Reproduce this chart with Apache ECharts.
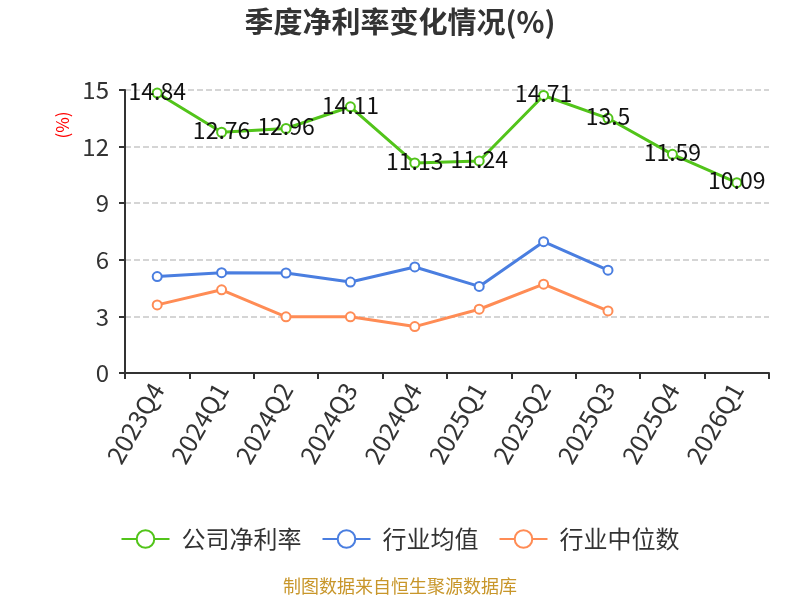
<!DOCTYPE html>
<html>
<head>
<meta charset="utf-8">
<script src="https://cdn.jsdelivr.net/npm/echarts@6/dist/echarts.min.js"></script>
<style>
  html, body { margin: 0; padding: 0; background: #fff; }
  #chart { width: 800px; height: 600px; }
</style>
</head>
<body>
<div id="chart"></div>
<script>
const quarters = ['2023Q4', '2024Q1', '2024Q2', '2024Q3', '2024Q4', '2025Q1', '2025Q2', '2025Q3', '2025Q4', '2026Q1'];
const companyMargin = [14.84, 12.76, 12.96, 14.11, 11.13, 11.24, 14.71, 13.5, 11.59, 10.09];
const industryAvg = [5.11, 5.32, 5.30, 4.82, 5.62, 4.59, 6.96, 5.45];
const industryMedian = [3.61, 4.41, 2.98, 2.98, 2.46, 3.38, 4.71, 3.29];
const seriesNames = ['公司净利率', '行业均值', '行业中位数'];
const colors = ['#52c41a', '#4a7ee0', '#ff8c55'];

const font = '"Noto Sans CJK SC", "Noto Sans", sans-serif';
const chart = echarts.init(document.getElementById('chart'));

function lineSeries(name, data, color, showLabel) {
  return {
    name: name,
    type: 'line',
    data: data,
    symbol: 'emptyCircle',
    symbolSize: 9,
    itemStyle: { color: color, borderWidth: 2 },
    lineStyle: { width: 3, color: color },
    label: {
      show: showLabel,
      position: 'inside',
      offset: [0, -2],
      color: '#111',
      fontSize: 23,
      fontFamily: font
    },
    z: showLabel ? 3 : 2
  };
}

const series = seriesNames.map((n, i) =>
  lineSeries(n, [companyMargin, industryAvg, industryMedian][i], colors[i], i === 0));

chart.setOption({
  color: colors,
  animation: false,
  textStyle: { fontFamily: font },
  title: {
    text: '季度净利率变化情况(%)',
    left: 'center',
    top: 2,
    textStyle: { fontSize: 29, fontWeight: 'bold', color: '#333', fontFamily: font }
  },
  grid: { left: 125, right: 31, top: 90, bottom: 227 },
  xAxis: {
    type: 'category',
    data: quarters,
    axisLine: { lineStyle: { color: '#333', width: 2 } },
    axisTick: { show: true, length: 6, lineStyle: { color: '#333', width: 2 } },
    axisLabel: { rotate: 60, fontSize: 25, color: '#333', margin: 12, interval: 0 }
  },
  yAxis: {
    type: 'value',
    min: 0,
    max: 15,
    interval: 3,
    axisLine: { show: true, lineStyle: { color: '#333', width: 2 } },
    axisTick: { show: true, length: 6, lineStyle: { color: '#333', width: 2 } },
    axisLabel: { fontSize: 24, color: '#333', margin: 16 },
    splitLine: { lineStyle: { type: 'dashed', color: '#c8c8c8', width: 1.5 } }
  },
  legend: {
    data: seriesNames,
    bottom: 44,
    left: 'center',
    itemWidth: 48,
    itemHeight: 22,
    itemGap: 20,
    textStyle: { fontSize: 24, color: '#333', padding: [0, 0, 0, 7] }
  },
  graphic: [
    {
      type: 'text',
      left: 'center',
      top: 577,
      style: { text: '制图数据来自恒生聚源数据库', fill: '#c8962a', fontSize: 18, fontFamily: font }
    },
    {
      type: 'text',
      x: 63,
      y: 125,
      rotation: Math.PI / 2,
      style: { text: '(%)', fill: '#ff0000', fontSize: 17, fontFamily: font, align: 'center', verticalAlign: 'middle' }
    }
  ],
  series: series
});
</script>
</body>
</html>
